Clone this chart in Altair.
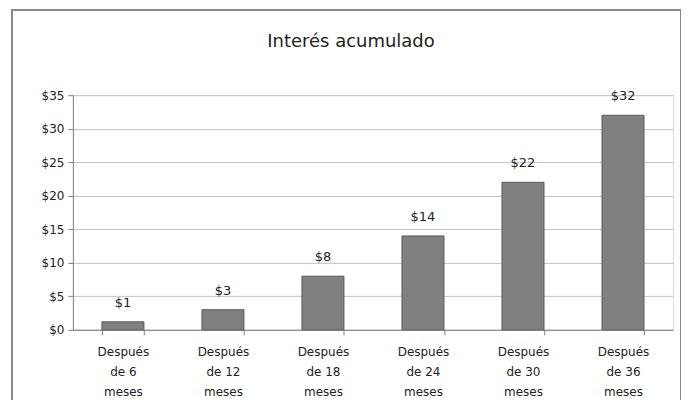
import altair as alt
import pandas as pd

categories = ["Después|de 6|meses", "Después|de 12|meses", "Después|de 18|meses",
              "Después|de 24|meses", "Después|de 30|meses", "Después|de 36|meses"]
values = [1.2, 3.0, 8.0, 14.0, 22.0, 32.0]
value_labels = ["$1", "$3", "$8", "$14", "$22", "$32"]
y_ticks = [0, 5, 10, 15, 20, 25, 30, 35]

FONT = "DejaVu Sans"

df = pd.DataFrame({"cat": categories, "val": values, "lab": value_labels})

x_enc = alt.X("cat:N", sort=categories, title=None,
              scale=alt.Scale(paddingInner=0.58, paddingOuter=0.29),
              axis=alt.Axis(labelExpr="split(datum.label, '|')", labelAngle=0,
                            labelFontSize=12, labelColor="#222", labelLineHeight=20,
                            labelPadding=12, tickBand="extent", tickSize=5,
                            tickColor="#808080", domainColor="#808080",
                            labelFont=FONT, grid=False))

y_enc = alt.Y("val:Q", title=None,
              scale=alt.Scale(domain=[0, 35], nice=False),
              axis=alt.Axis(values=y_ticks, format="$,.0f", labelFontSize=12,
                            labelColor="#222", labelFont=FONT,
                            labelOverlap=False, tickSize=5, tickColor="#808080",
                            domainColor="#808080", gridColor="#c4c4c4", labelPadding=4))

bars = alt.Chart(df).mark_bar(color="#808080", stroke="#5a5a5a", strokeWidth=1).encode(
    x=x_enc, y=y_enc)

texts = alt.Chart(df).mark_text(dy=-19, fontSize=13, color="#222",
                                font=FONT).encode(
    x=x_enc, y=y_enc, text="lab:N")

frame = alt.Chart(df).mark_rect(fill=None, stroke="#8a8a8a", strokeWidth=1.5).encode(
    x=alt.value(-61), x2=alt.value(609), y=alt.value(-85), y2=alt.value(312))

chart = alt.layer(bars, texts, frame).properties(
    width=601, height=235,
    autosize=alt.AutoSizeParams(type="none"),
    padding={"left": 65, "top": 87, "right": 8, "bottom": 70},
    title=alt.TitleParams("Interés acumulado", fontSize=18, fontWeight="normal",
                          font=FONT, color="#222", anchor="middle",
                          dx=-22, offset=-42),
).configure_view(stroke="#a0a0a0", strokeWidth=1).configure(background="white")

chart.save("out.html", embed_options={"renderer": "svg", "actions": False})
